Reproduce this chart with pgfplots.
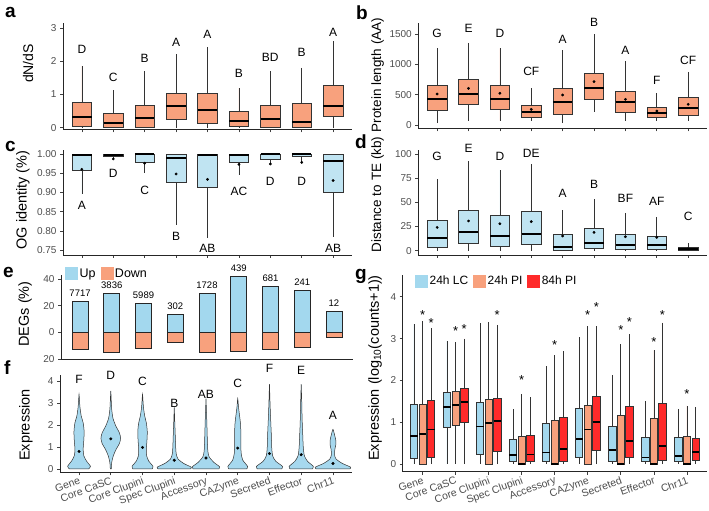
\documentclass[border=0pt]{standalone}
\usepackage{fontspec}
\setmainfont{Liberation Sans}
\usepackage{pgfplots}
\pgfplotsset{compat=1.18}
\usepgfplotslibrary{statistics}
\definecolor{salm}{HTML}{F8A17D}
\definecolor{lblue}{HTML}{C0E4F2}
\definecolor{upblue}{HTML}{A3D8EE}
\definecolor{vblue}{HTML}{A6D8EE}
\definecolor{red84}{HTML}{FF2A2A}
\definecolor{tickgrey}{HTML}{4D4D4D}
\newcommand{\fs}[1]{\fontsize{#1}{#1}\selectfont}
\tikzset{
  salbox/.style={draw=black!80, fill=salm, line width=0.6pt},
  bluebox/.style={draw=black!80, fill=lblue, line width=0.6pt},
  lcbox/.style={draw=black!80, fill=upblue, line width=0.6pt},
  pibox/.style={draw=black!80, fill=salm, line width=0.6pt},
  rbox/.style={draw=black!80, fill=red84, line width=0.6pt},
  lett/.style={font=\fs{12}, inner sep=0pt},
  star/.style={font=\fs{13}, inner sep=0pt},
  cnt/.style={font=\fs{9.5}, inner sep=0pt},
  ylab/.style={rotate=90, inner sep=0pt},
  plet/.style={font=\bfseries\fs{19}, anchor=base west, inner sep=0pt},
}
\newcommand{\bx}[7]{\addplot[#1, boxplot prepared={draw position=#2, lower whisker=#3, lower quartile=#4, median=#5, upper quartile=#6, upper whisker=#7}] coordinates {};}
\pgfplotsset{
  gg/.style={
    scale only axis, axis lines*=left, clip=false,
    axis line style={line width=0.8pt, black!85},
    tick style={line width=0.6pt, black!75},
    major tick length=3pt, tick align=outside,
    ticklabel style={font=\fs{10}, text=tickgrey},
    /pgf/number format/assume math mode=true,
    /pgf/number format/1000 sep={},
    xmin=0.4, xmax=9.6, xtick={1,...,9}, xticklabels={},
    boxplot/draw direction=y,
    boxplot/box extend=0.62, boxplot/whisker extend=0,
    boxplot/every median/.style={line width=2pt, draw=black},
  },
  catlabels/.style={
    xticklabels={Gene, Core CaSC, Core Clupini, Spec Clupini, Accessory, CAZyme, Secreted, Effector, Chr11},
    xticklabel style={rotate=20, anchor=north east, font=\fs{10.5}, text=tickgrey, inner sep=1pt},
  },
}
\begin{document}
\begin{tikzpicture}
\useasboundingbox (0pt,0pt) rectangle (709pt,511pt);

% ---------------- a ----------------
\begin{axis}[gg, at={(63pt,381.5pt)}, anchor=south west, width=289pt, height=106.2pt,
  ymin=-0.055, ymax=3.14, ytick={0,1,2,3}]
\bx{salbox}{1}{0}{0.03}{0.33}{0.755}{1.86}
\bx{salbox}{2}{0}{0}{0.13}{0.43}{1.12}
\bx{salbox}{3}{0}{0}{0.28}{0.68}{1.71}
\bx{salbox}{4}{0}{0.25}{0.66}{1.04}{2.22}
\bx{salbox}{5}{0}{0.13}{0.53}{1.04}{2.43}
\bx{salbox}{6}{0}{0.03}{0.21}{0.5}{1.19}
\bx{salbox}{7}{0}{0}{0.26}{0.68}{1.69}
\bx{salbox}{8}{0}{0}{0.18}{0.73}{1.81}
\bx{salbox}{9}{0}{0.33}{0.65}{1.26}{2.6}
\node[lett] at (axis cs:1,2.35) {D};
\node[lett] at (axis cs:2,1.52) {C};
\node[lett] at (axis cs:3,2.07) {B};
\node[lett] at (axis cs:4,2.58) {A};
\node[lett] at (axis cs:5,2.8) {A};
\node[lett] at (axis cs:6,1.64) {B};
\node[lett] at (axis cs:7,2.11) {BD};
\node[lett] at (axis cs:8,2.27) {B};
\node[lett] at (axis cs:9,2.88) {A};
\end{axis}

% ---------------- b ----------------
\begin{axis}[gg, at={(418.3pt,382.7pt)}, anchor=south west, width=288.7pt, height=105.3pt,
  ymin=-54, ymax=1681, ytick={0,500,1000,1500}]
\bx{salbox}{1}{27}{247}{423}{659}{1264}
\bx{salbox}{2}{71}{341}{505}{753}{1357}
\bx{salbox}{3}{71}{258}{429}{659}{1264}
\bx{salbox}{4}{71}{126}{214}{324}{604}
\bx{salbox}{5}{27}{181}{374}{604}{1236}
\bx{salbox}{6}{220}{423}{604}{852}{1495}
\bx{salbox}{7}{71}{203}{374}{549}{1055}
\bx{salbox}{8}{71}{126}{203}{291}{522}
\bx{salbox}{9}{71}{165}{275}{451}{879}
\addplot[only marks, mark=*, mark size=1.2pt, black] coordinates {(1,511)(2,604)(3,522)(4,258)(5,495)(6,714)(7,423)(8,231)(9,341)};
\node[lett] at (axis cs:1,1511) {G};
\node[lett] at (axis cs:2,1594) {E};
\node[lett] at (axis cs:3,1511) {D};
\node[lett] at (axis cs:4,879) {CF};
\node[lett] at (axis cs:5,1412) {A};
\node[lett] at (axis cs:6,1687) {B};
\node[lett] at (axis cs:7,1236) {A};
\node[lett] at (axis cs:8,742) {F};
\node[lett] at (axis cs:9,1072) {CF};
\end{axis}

% ---------------- c ----------------
\begin{axis}[gg, at={(63pt,256pt)}, anchor=south west, width=289pt, height=105pt,
  ymin=0.737, ymax=1.0104, ytick={0.75,0.8,0.85,0.9,0.95,1},
  yticklabel style={/pgf/number format/.cd, fixed, fixed zerofill, precision=2}]
\bx{bluebox}{1}{0.895}{0.958}{0.997}{1.0}{1.0}
\bx{bluebox}{2}{0.986}{0.994}{0.998}{1.0}{1.0}
\bx{bluebox}{3}{0.95}{0.978}{0.999}{1.0}{1.0}
\bx{bluebox}{4}{0.815}{0.925}{0.989}{1.0}{1.0}
\bx{bluebox}{5}{0.78}{0.912}{0.997}{1.0}{1.0}
\bx{bluebox}{6}{0.945}{0.978}{0.997}{1.0}{1.0}
\bx{bluebox}{7}{0.975}{0.987}{0.999}{1.0}{1.0}
\bx{bluebox}{8}{0.98}{0.993}{0.999}{1.0}{1.0}
\bx{bluebox}{9}{0.785}{0.899}{0.982}{1.0}{1.0}
\addplot[only marks, mark=*, mark size=1.2pt, black] coordinates {(1,0.96)(2,0.987)(3,0.976)(4,0.948)(5,0.934)(6,0.973)(7,0.974)(8,0.978)(9,0.931)};
\node[lett] at (axis cs:1,0.865) {A};
\node[lett] at (axis cs:2,0.95) {D};
\node[lett] at (axis cs:3,0.906) {C};
\node[lett] at (axis cs:4,0.785) {B};
\node[lett] at (axis cs:5,0.754) {AB};
\node[lett] at (axis cs:6,0.902) {AC};
\node[lett] at (axis cs:7,0.93) {D};
\node[lett] at (axis cs:8,0.93) {D};
\node[lett] at (axis cs:9,0.754) {AB};
\end{axis}

% ---------------- d ----------------
\begin{axis}[gg, at={(418.3pt,256pt)}, anchor=south west, width=288.7pt, height=105pt,
  ymin=-4.4, ymax=104, ytick={0,25,50,75,100}]
\bx{bluebox}{1}{0}{3.4}{12.8}{31.7}{73.8}
\bx{bluebox}{2}{0}{7.6}{19.7}{42}{92.8}
\bx{bluebox}{3}{0}{4.1}{15.2}{36.9}{83.4}
\bx{bluebox}{4}{0}{6.6}{17.2}{40.3}{89.7}
\bx{bluebox}{5}{0}{0.7}{3.4}{17.2}{42}
\bx{bluebox}{6}{0}{2.4}{7.6}{23}{53}
\bx{bluebox}{7}{0}{1.4}{5.9}{17}{39.3}
\bx{bluebox}{8}{0}{1.4}{5.9}{15.2}{35.2}
\bx{bluebox}{9}{0}{0.5}{1.7}{3.5}{7.6}
\addplot[only marks, mark=*, mark size=1.2pt, black] coordinates {(1,24.1)(2,30.7)(3,27.9)(4,30)(5,15.2)(6,19)(7,14.5)(8,13.8)(9,2)};
\node[lett] at (axis cs:1,97) {G};
\node[lett] at (axis cs:2,106) {E};
\node[lett] at (axis cs:3,97) {D};
\node[lett] at (axis cs:4,100) {DE};
\node[lett] at (axis cs:5,59) {A};
\node[lett] at (axis cs:6,69) {B};
\node[lett] at (axis cs:7,54) {BF};
\node[lett] at (axis cs:8,50.7) {AF};
\node[lett] at (axis cs:9,35.2) {C};
\end{axis}

% ---------------- e ----------------
\begin{axis}[gg, at={(61pt,151.3pt)}, anchor=south west, width=292pt, height=84.7pt,
  ymin=-20.5, ymax=43, ytick={-20,0,20,40}, yticklabels={20,0,20,40}, xtick=\empty,
  legend columns=2,
  legend style={at={(axis description cs:0.0137,1.018)}, anchor=west, draw=none, fill=none,
    inner sep=0pt, font=\fs{12.5}, /tikz/every odd column/.append style={column sep=0pt},
    /tikz/every even column/.append style={column sep=3pt}},
  legend cell align=left]
\addlegendimage{legend image code/.code={\fill[upblue] (0pt,-6pt) rectangle (12pt,6pt);}}
\addlegendentry{Up}
\addlegendimage{legend image code/.code={\fill[salm] (0pt,-6pt) rectangle (12pt,6pt);}}
\addlegendentry{Down}
\addplot[ybar, bar width=0.5, bar shift=0pt, fill=upblue, draw=black!85, line width=0.7pt, forget plot]
  coordinates {(1,23.5)(2,29.2)(3,21.7)(4,13.7)(5,29.2)(6,41.7)(7,34.2)(8,31.7)(9,16)};
\addplot[ybar, bar width=0.5, bar shift=0pt, fill=salm, draw=black!85, line width=0.7pt, forget plot]
  coordinates {(1,-12.5)(2,-15)(3,-12)(4,-7.8)(5,-15)(6,-14.5)(7,-12.8)(8,-11.3)(9,-3.8)};
\node[cnt] at (axis cs:1,29.5) {7717};
\node[cnt] at (axis cs:2,35.2) {3836};
\node[cnt] at (axis cs:3,27.7) {5989};
\node[cnt] at (axis cs:4,19.7) {302};
\node[cnt] at (axis cs:5,35.2) {1728};
\node[cnt] at (axis cs:6,47.7) {439};
\node[cnt] at (axis cs:7,40.2) {681};
\node[cnt] at (axis cs:8,37.7) {241};
\node[cnt] at (axis cs:9,22) {12};
\end{axis}

% ---------------- f ----------------
\begin{axis}[gg, catlabels, at={(60pt,38.7pt)}, anchor=south west, width=292pt, height=97.3pt,
  ymin=-0.15, ymax=4.27, ytick={0,1,2,3,4}]
\tikzset{vio/.style={fill=vblue, draw=black!80, line width=0.5pt, smooth, tension=0.45}}
\addplot[vio] coordinates {(1.30,0)(1.36,0.12)(1.24,0.35)(1.15,0.6)(1.13,0.9)(1.15,1.3)(1.16,1.7)(1.13,2.1)(1.07,2.4)(1.03,2.8)(1.015,3.1)(1,3.4)(0.985,3.1)(0.97,2.8)(0.93,2.4)(0.87,2.1)(0.84,1.7)(0.85,1.3)(0.87,0.9)(0.85,0.6)(0.76,0.35)(0.64,0.12)(0.70,0)} -- cycle;
\addplot[vio] coordinates {(2.015,0)(2.03,0.3)(2.08,0.6)(2.17,0.9)(2.27,1.15)(2.31,1.4)(2.27,1.65)(2.16,1.95)(2.07,2.3)(2.03,2.7)(2.015,3.1)(2,3.55)(1.985,3.1)(1.97,2.7)(1.93,2.3)(1.84,1.95)(1.73,1.65)(1.69,1.4)(1.73,1.15)(1.83,0.9)(1.92,0.6)(1.97,0.3)(1.985,0)} -- cycle;
\addplot[vio] coordinates {(3.30,0)(3.33,0.12)(3.20,0.35)(3.13,0.6)(3.12,0.9)(3.14,1.3)(3.15,1.7)(3.12,2.1)(3.07,2.4)(3.03,2.8)(3.015,3.1)(3,3.4)(2.985,3.1)(2.97,2.8)(2.93,2.4)(2.88,2.1)(2.85,1.7)(2.86,1.3)(2.88,0.9)(2.87,0.6)(2.80,0.35)(2.67,0.12)(2.70,0)} -- cycle;
\addplot[vio] coordinates {(4.50,0)(4.54,0.08)(4.30,0.25)(4.12,0.45)(4.06,0.7)(4.045,1.0)(4.035,1.4)(4.025,1.8)(4.012,2.3)(4,2.8)(3.988,2.3)(3.975,1.8)(3.965,1.4)(3.955,1.0)(3.94,0.7)(3.88,0.45)(3.70,0.25)(3.46,0.08)(3.50,0)} -- cycle;
\addplot[vio] coordinates {(5.40,0)(5.43,0.1)(5.25,0.3)(5.10,0.55)(5.06,0.8)(5.045,1.2)(5.035,1.7)(5.025,2.2)(5.012,2.7)(5,3.2)(4.988,2.7)(4.975,2.2)(4.965,1.7)(4.955,1.2)(4.94,0.8)(4.90,0.55)(4.75,0.3)(4.57,0.1)(4.60,0)} -- cycle;
\addplot[vio] coordinates {(6.28,0)(6.31,0.12)(6.16,0.4)(6.11,0.7)(6.10,1.0)(6.10,1.5)(6.09,2.0)(6.06,2.4)(6.025,2.8)(6,3.2)(5.975,2.8)(5.94,2.4)(5.91,2.0)(5.90,1.5)(5.90,1.0)(5.89,0.7)(5.84,0.4)(5.69,0.12)(5.72,0)} -- cycle;
\addplot[vio] coordinates {(7.38,0)(7.41,0.12)(7.20,0.35)(7.10,0.6)(7.07,1.0)(7.06,1.5)(7.045,2.0)(7.03,2.5)(7.018,3.0)(7.01,3.4)(7,3.85)(6.99,3.4)(6.982,3.0)(6.97,2.5)(6.955,2.0)(6.94,1.5)(6.93,1.0)(6.90,0.6)(6.80,0.35)(6.59,0.12)(6.62,0)} -- cycle;
\addplot[vio] coordinates {(8.35,0)(8.38,0.12)(8.20,0.35)(8.10,0.6)(8.065,1.0)(8.05,1.5)(8.035,2.0)(8.025,2.5)(8.018,3.0)(8.01,3.4)(8,3.85)(7.99,3.4)(7.982,3.0)(7.975,2.5)(7.965,2.0)(7.95,1.5)(7.935,1.0)(7.90,0.6)(7.80,0.35)(7.62,0.12)(7.65,0)} -- cycle;
\addplot[vio] coordinates {(9.52,0)(9.56,0.08)(9.30,0.25)(9.10,0.45)(9.05,0.65)(9.06,0.9)(9.09,1.1)(9.09,1.3)(9.06,1.5)(9.025,1.7)(9,1.8)(8.975,1.7)(8.94,1.5)(8.91,1.3)(8.91,1.1)(8.94,0.9)(8.95,0.65)(8.90,0.45)(8.70,0.25)(8.44,0.08)(8.48,0)} -- cycle;
\addplot[only marks, mark=*, mark size=1.3pt, black] coordinates {(1,0.8)(2,1.37)(3,0.98)(4,0.4)(5,0.5)(6,0.95)(7,0.7)(8,0.65)(9,0.25)};
\node[lett] at (axis cs:1,4.05) {F};
\node[lett] at (axis cs:2,4.27) {D};
\node[lett] at (axis cs:3,3.97) {C};
\node[lett] at (axis cs:4,2.98) {B};
\node[lett] at (axis cs:5,3.41) {AB};
\node[lett] at (axis cs:6,3.9) {C};
\node[lett] at (axis cs:7,4.58) {F};
\node[lett] at (axis cs:8,4.49) {E};
\node[lett] at (axis cs:9,2.45) {A};
\end{axis}

% ---------------- g ----------------
\begin{axis}[gg, catlabels, at={(402.7pt,39.3pt)}, anchor=south west, width=304pt, height=196.7pt,
  ymin=-0.18, ymax=4.52, ytick={0,1,2,3,4}, boxplot/box extend=0.22,
  boxplot/every median/.style={line width=1.8pt, draw=black},
  legend columns=3,
  legend style={at={(axis description cs:0.0405,0.9695)}, anchor=west, draw=none, fill=none,
    inner sep=0pt, font=\fs{12}, /tikz/every odd column/.append style={column sep=0pt},
    /tikz/every even column/.append style={column sep=3pt}},
  legend cell align=left]
\addlegendimage{legend image code/.code={\fill[upblue] (0pt,-6pt) rectangle (12pt,6pt);}}
\addlegendentry{24h LC}
\addlegendimage{legend image code/.code={\fill[salm] (0pt,-6pt) rectangle (12pt,6pt);}}
\addlegendentry{24h PI}
\addlegendimage{legend image code/.code={\fill[red84] (0pt,-6pt) rectangle (12pt,6pt);}}
\addlegendentry{84h PI}
% Gene
\bx{lcbox}{0.74}{0}{0.13}{0.67}{1.43}{3.35}
\bx{pibox}{1}{0}{0}{0.73}{1.42}{3.43}
\bx{rbox}{1.26}{0}{0.17}{0.83}{1.52}{3.25}
% Core CaSC
\bx{lcbox}{1.74}{0}{0.89}{1.37}{1.71}{2.94}
\bx{pibox}{2}{0}{0.93}{1.42}{1.75}{2.91}
\bx{rbox}{2.26}{0}{1.01}{1.48}{1.82}{3.0}
% Core Clupini
\bx{lcbox}{2.74}{0}{0.23}{0.9}{1.48}{3.37}
\bx{pibox}{3}{0}{0}{0.99}{1.55}{3.4}
\bx{rbox}{3.26}{0}{0.31}{1.03}{1.58}{3.33}
% Spec Clupini
\bx{lcbox}{3.74}{0}{0.08}{0.21}{0.59}{1.31}
\bx{pibox}{4}{0}{0}{0}{0.67}{1.68}
\bx{rbox}{4.26}{0}{0.07}{0.23}{0.69}{1.6}
% Accessory
\bx{lcbox}{4.74}{0}{0.06}{0.28}{0.97}{2.34}
\bx{pibox}{5}{0}{0}{0}{1.05}{2.6}
\bx{rbox}{5.26}{0}{0.08}{0.37}{1.13}{2.7}
% CAZyme
\bx{lcbox}{5.74}{0}{0.17}{0.61}{1.33}{3.03}
\bx{pibox}{6}{0}{0}{0.83}{1.4}{3.3}
\bx{rbox}{6.26}{0}{0.33}{1.0}{1.62}{3.3}
% Secreted
\bx{lcbox}{6.74}{0}{0.08}{0.33}{0.9}{2.12}
\bx{pibox}{7}{0}{0}{0}{1.17}{2.87}
\bx{rbox}{7.26}{0}{0.16}{0.56}{1.38}{3.11}
% Effector
\bx{lcbox}{7.74}{0}{0.06}{0.16}{0.65}{1.51}
\bx{pibox}{8}{0}{0}{0}{1.09}{2.72}
\bx{rbox}{8.26}{0}{0.1}{0.43}{1.46}{3.38}
% Chr11
\bx{lcbox}{8.74}{0}{0.06}{0.2}{0.65}{1.33}
\bx{pibox}{9}{0}{0}{0}{0.67}{1.4}
\bx{rbox}{9.26}{0}{0.1}{0.29}{0.61}{1.37}
% stars
\node[star] at (axis cs:1,3.555) {*};
\node[star] at (axis cs:1.26,3.375) {*};
\node[star] at (axis cs:2,3.185) {*};
\node[star] at (axis cs:2.26,3.235) {*};
\node[star] at (axis cs:3.26,3.555) {*};
\node[star] at (axis cs:4,2.005) {*};
\node[star] at (axis cs:5,2.835) {*};
\node[star] at (axis cs:6,3.555) {*};
\node[star] at (axis cs:6.26,3.755) {*};
\node[star] at (axis cs:7,3.195) {*};
\node[star] at (axis cs:7.26,3.395) {*};
\node[star] at (axis cs:8,2.915) {*};
\node[star] at (axis cs:8.26,3.575) {*};
\node[star] at (axis cs:9,1.675) {*};
\end{axis}

% ---------------- axis titles ----------------
\node[ylab, font=\fs{14}] at (28pt,447.5pt) {dN/dS};
\node[ylab, font=\fs{14.5}] at (23pt,311pt) {OG identity (\%)};
\node[ylab, font=\fs{14.5}] at (25pt,197pt) {DEGs (\%)};
\node[ylab, font=\fs{14.5}] at (26pt,86pt) {Expression};
\node[ylab, font=\fs{13.5}] at (377.7pt,436pt) {Protein length (AA)};
\node[ylab, font=\fs{13.5}] at (377.7pt,316.5pt) {Distance to TE (kb)};
\node[ylab, font=\fs{14.5}] at (375pt,143pt) {Expression (log\textsubscript{10}(counts+1))};

% ---------------- panel letters ----------------
\node[plet] at (5pt,493pt) {a};
\node[plet] at (356pt,491pt) {b};
\node[plet] at (5pt,359pt) {c};
\node[plet] at (355pt,362.7pt) {d};
\node[plet] at (3pt,233pt) {e};
\node[plet] at (4pt,136pt) {f};
\node[plet] at (355pt,231pt) {g};
\end{tikzpicture}
\end{document}
